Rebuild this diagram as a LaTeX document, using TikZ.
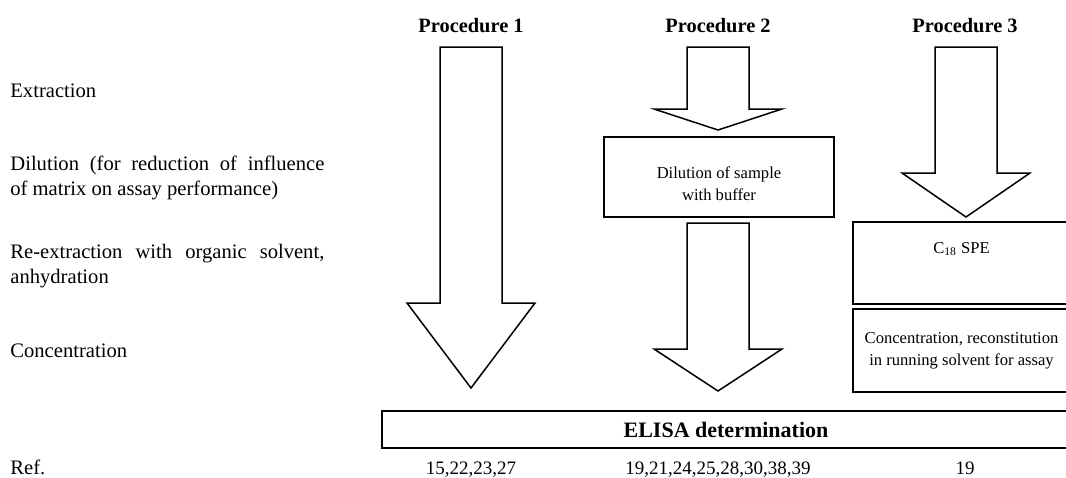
\documentclass[tikz,border=0pt]{standalone}
\usepackage{fontspec}
\setmainfont{Liberation Serif}
\usetikzlibrary{positioning}
\tikzstyle{stage} = [anchor=base west, inner sep=0, text width=157pt, align=justify, font=\fontsize{10.3}{12.5}\selectfont]
\tikzstyle{proc} = [anchor=base, inner sep=0, font=\fontsize{10.2}{12}\selectfont\bfseries]
\tikzstyle{process} = [rectangle, draw=black, line width=1.4pt, inner sep=0, align=center, font=\fontsize{8.3}{11}\selectfont]
\tikzstyle{boxtext} = [inner sep=0, align=center, font=\fontsize{8.3}{11}\selectfont]
\tikzstyle{refs} = [anchor=base, inner sep=0, font=\fontsize{9.5}{11}\selectfont]
\tikzstyle{blockarrow} = [draw=black, line width=0.75pt, line join=miter]
% hollow down arrow: centre x, top, head base, tip
\newcommand{\blockarrow}[4]{%
  \draw[blockarrow] (#1-31,#2) -- (#1+31,#2) -- (#1+31,#3) -- (#1+64,#3)
    -- (#1,#4) -- (#1-64,#3) -- (#1-31,#3) -- cycle;}

\begin{document}
\begin{tikzpicture}[x=0.5pt, y=-0.5pt]
    \useasboundingbox (0,0) rectangle (1066,477);
    \clip (0,0) rectangle (1066,477);

    % steps on the left
    \node (extr) [stage] at (10,97) {Extraction};
    \node (dilut) [stage] at (10,170) {Dilution (for reduction of influence\linebreak of matrix on assay performance)};
    \node (reext) [stage] at (10,258) {Re-extraction with organic solvent,\linebreak anhydration};
    \node (conc) [stage] at (10,357) {Concentration};
    \node (ref) [stage] at (10,474) {Ref.};

    % column heads
    \node (proc1) [proc] at (471,32) {Procedure 1};
    \node (proc2) [proc] at (718,32) {Procedure 2};
    \node (proc3) [proc] at (965,32) {Procedure 3};

    % arrows
    \blockarrow{471}{47}{303}{388}
    \blockarrow{718}{47}{109}{130}
    \blockarrow{718}{223}{349}{391}
    \blockarrow{966}{47}{173}{217}

    % boxes
    \node (dilbox) [process, minimum width=115pt, minimum height=40pt,
        label={[boxtext, yshift=-3.5pt]center:Dilution of sample\\with buffer}] at (719,177) {};
    \node (spe) [process, minimum width=108.5pt, minimum height=41pt,
        label={[boxtext, yshift=7pt]center:C\textsubscript{18} SPE}] at (961.5,263) {};
    \node (concbox) [process, minimum width=108.5pt, minimum height=41.5pt] at (961.5,350.5) {Concentration, reconstitution\\in running solvent for assay};
    \node (elisa) [process, minimum width=344pt, minimum height=18.5pt, font=\fontsize{11}{13}\selectfont\bfseries] at (726,429.5) {ELISA determination};

    % references
    \node (ref1) [refs] at (471,474) {15,22,23,27};
    \node (ref2) [refs] at (718,474) {19,21,24,25,28,30,38,39};
    \node (ref3) [refs] at (965,474) {19};
\end{tikzpicture}
\end{document}
